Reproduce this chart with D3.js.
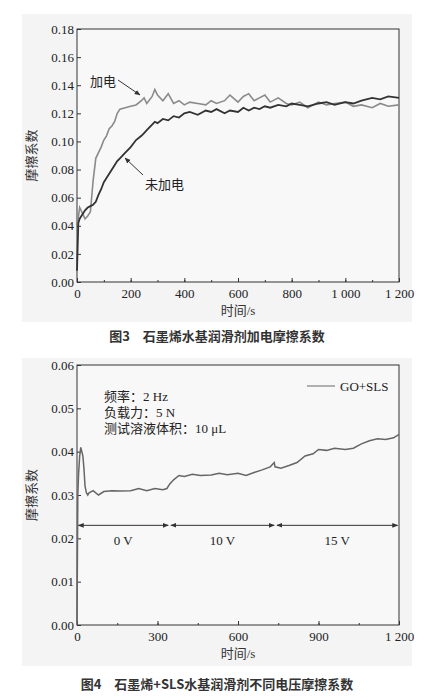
<!DOCTYPE html>
<html><head><meta charset="utf-8">
<script src="https://cdn.jsdelivr.net/npm/d3@7.9.0/dist/d3.min.js"></script>
<style>body{margin:0;background:#fff}svg text{font-family:"Liberation Serif","Noto Sans CJK SC",serif}</style>
</head><body><svg width="434" height="700"></svg>
<script>
// chart 1 data (time in s, friction coefficient)
const time1 = [0,5,10,20,30,40,50,60,70,80,90,100,110,120,130,140,150,160,180,200,220,240,250,260,280,290,300,320,340,360,380,400,420,450,480,500,520,550,570,600,620,640,660,680,700,720,750,780,800,830,860,900,930,960,1000,1030,1060,1100,1130,1160,1200];
const withPower = [0.040,0.046,0.053,0.049,0.045,0.047,0.050,0.072,0.088,0.092,0.096,0.101,0.104,0.109,0.111,0.114,0.120,0.123,0.124,0.125,0.126,0.129,0.131,0.127,0.132,0.137,0.133,0.129,0.134,0.127,0.129,0.126,0.128,0.127,0.126,0.129,0.127,0.129,0.133,0.128,0.132,0.134,0.129,0.131,0.133,0.128,0.131,0.127,0.126,0.128,0.124,0.128,0.126,0.127,0.128,0.125,0.126,0.124,0.127,0.125,0.126];
const noPower = [0.008,0.042,0.045,0.048,0.051,0.053,0.054,0.055,0.057,0.062,0.066,0.071,0.074,0.077,0.080,0.083,0.086,0.088,0.092,0.096,0.101,0.104,0.106,0.108,0.112,0.114,0.113,0.116,0.115,0.118,0.117,0.120,0.121,0.119,0.122,0.121,0.123,0.120,0.122,0.121,0.124,0.122,0.124,0.123,0.125,0.124,0.126,0.125,0.127,0.126,0.125,0.127,0.128,0.126,0.128,0.127,0.129,0.131,0.130,0.132,0.131];
const yTicks1 = [0,0.02,0.04,0.06,0.08,0.10,0.12,0.14,0.16,0.18];
const xTicks1 = [0,200,400,600,800,1000,1200];

// chart 2 data
const time2 = [0,3,6,10,14,18,22,26,30,35,40,45,60,80,100,130,160,200,230,260,290,320,335,345,360,380,400,430,460,500,530,560,600,630,660,690,720,735,738,760,790,820,850,880,900,930,960,1000,1030,1060,1090,1120,1150,1180,1200];
const goSls = [0.000,0.030,0.035,0.039,0.041,0.040,0.039,0.036,0.032,0.0305,0.030,0.0305,0.031,0.030,0.0308,0.031,0.0309,0.031,0.0315,0.031,0.0315,0.0312,0.0315,0.0325,0.0335,0.0345,0.0343,0.0348,0.0345,0.0346,0.035,0.0347,0.035,0.0345,0.0352,0.0358,0.0365,0.0375,0.0365,0.0362,0.0368,0.0375,0.039,0.0395,0.0405,0.0403,0.0408,0.0405,0.0408,0.0418,0.0425,0.043,0.0428,0.0432,0.044];
const yTicks2 = [0,0.01,0.02,0.03,0.04,0.05,0.06];
const xTicks2 = [0,300,600,900,1200];
const voltages = [{label:'0 V', from:5, to:340},{label:'10 V', from:350, to:735},{label:'15 V', from:745, to:1195}];

const serif = '"Liberation Serif","Noto Sans CJK SC",serif';
const svg = d3.select('svg');
svg.append('defs').append('marker').attr('id','ah').attr('viewBox','0 0 10 10')
  .attr('refX',9).attr('refY',5).attr('markerWidth',6).attr('markerHeight',6).attr('orient','auto-start-reverse')
  .append('path').attr('d','M0,1L10,5L0,9Z').attr('fill','#333');

function panel(top, yMax, yTicks, xTicks, fmt, bgTop, bgH) {
  svg.append('rect').attr('x',22).attr('y',bgTop).attr('width',390).attr('height',bgH).attr('fill','#f4f4f4');
  const g = svg.append('g');
  const x = d3.scaleLinear().domain([0,1200]).range([77,399]);
  const y = d3.scaleLinear().domain([0,yMax]).range([top.bottom, top.top]);
  g.append('rect').attr('x',77).attr('y',top.top).attr('width',322).attr('height',top.bottom-top.top)
    .attr('fill','#f8f8f8').attr('stroke','#333').attr('stroke-width',1);
  const ax = g.append('g').attr('transform',`translate(0,${top.bottom})`)
    .call(d3.axisBottom(x).tickValues(xTicks).tickSize(-4).tickFormat(d => d >= 1000 ? d3.format(',')(d).replace(',', ' ') : d));
  const ay = g.append('g').attr('transform','translate(77,0)')
    .call(d3.axisLeft(y).tickValues(yTicks).tickSize(-4).tickFormat(fmt));
  [ax, ay].forEach(a => { a.attr('font-family', serif); a.select('.domain').remove(); a.selectAll('line').attr('stroke','#333');
    a.selectAll('text').attr('font-size',13).attr('fill','#222').style('font-family', serif); });
  ax.selectAll('text').attr('dy','1.0em');
  // minor ticks
  g.append('g').attr('transform',`translate(0,${top.bottom})`)
    .call(d3.axisBottom(x).tickValues(d3.range(0,1201,xTicks[1]/2)).tickSize(-2).tickFormat(''))
    .call(a => { a.select('.domain').remove(); a.selectAll('line').attr('stroke','#333'); });
  g.append('text').attr('x',238).attr('y',top.bottom+33).attr('text-anchor','middle').attr('font-size',13).attr('fill','#333').text('时间/s');
  g.append('text').attr('transform',`translate(36,${(top.top+top.bottom)/2}) rotate(-90)`).attr('text-anchor','middle')
    .attr('font-size',13).attr('fill','#333').text('摩擦系数');
  return {g, x, y};
}

// chart 1
const p1 = panel({top:29, bottom:282}, 0.18, yTicks1, xTicks1, d3.format('.2f'), 14, 308);
const line1 = d3.line().x((d,i) => p1.x(time1[i])).y(d => p1.y(d));
p1.g.append('path').attr('d', line1(withPower)).attr('fill','none').attr('stroke','#8a8a8a').attr('stroke-width',1.6);
p1.g.append('path').attr('d', line1(noPower)).attr('fill','none').attr('stroke','#333').attr('stroke-width',1.8);
p1.g.append('text').attr('x',90).attr('y',86).attr('font-size',13).attr('fill','#222').text('加电');
p1.g.append('line').attr('x1',118).attr('y1',80).attr('x2',140).attr('y2',95).attr('stroke','#333').attr('marker-end','url(#ah)');
p1.g.append('text').attr('x',145).attr('y',189).attr('font-size',13).attr('fill','#222').text('未加电');
p1.g.append('line').attr('x1',143).attr('y1',175).attr('x2',125).attr('y2',158).attr('stroke','#333').attr('marker-end','url(#ah)');
svg.append('text').attr('x',217).attr('y',341).attr('text-anchor','middle').attr('font-size',13).attr('font-weight','bold')
  .attr('fill','#333').style('font-family','"Noto Sans CJK SC",sans-serif').text('图3　石墨烯水基润滑剂加电摩擦系数');

// chart 2
const p2 = panel({top:365, bottom:625}, 0.06, yTicks2, xTicks2, d3.format('.2f'), 358, 308);
const line2 = d3.line().x((d,i) => p2.x(time2[i])).y(d => p2.y(d));
p2.g.append('path').attr('d', line2(goSls)).attr('fill','none').attr('stroke','#666').attr('stroke-width',1.5);
p2.g.append('line').attr('x1',307).attr('x2',335).attr('y1',386).attr('y2',386).attr('stroke','#999').attr('stroke-width',1.5);
p2.g.append('text').attr('x',340).attr('y',391).attr('font-size',13).attr('fill','#222').text('GO+SLS');
['频率：2 Hz','负载力：5 N','测试溶液体积：10 μL'].forEach((t,i) =>
  p2.g.append('text').attr('x',104).attr('y',401+i*16).attr('font-size',13).attr('fill','#222').text(t));
voltages.forEach(v => {
  p2.g.append('line').attr('x1',p2.x(v.from)).attr('x2',p2.x(v.to)).attr('y1',p2.y(0.023)).attr('y2',p2.y(0.023))
    .attr('stroke','#333').attr('marker-start','url(#ah)').attr('marker-end','url(#ah)');
  p2.g.append('text').attr('x',p2.x((v.from+v.to)/2)).attr('y',p2.y(0.0185)).attr('text-anchor','middle')
    .attr('font-size',13).attr('fill','#222').text(v.label);
});
svg.append('text').attr('x',217).attr('y',689).attr('text-anchor','middle').attr('font-size',13).attr('font-weight','bold')
  .attr('fill','#333').style('font-family','"Noto Sans CJK SC",sans-serif').text('图4　石墨烯+SLS水基润滑剂不同电压摩擦系数');
</script></body></html>
